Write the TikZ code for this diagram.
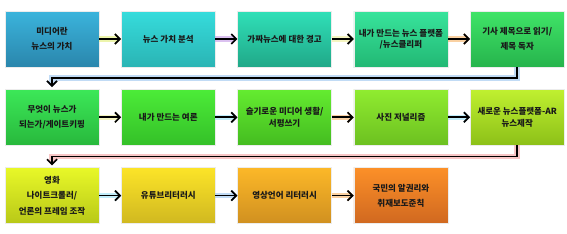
\documentclass[tikz,border=0pt]{standalone}
\usepackage{fontspec}
\setmainfont{Noto Sans CJK KR}
\usetikzlibrary{positioning,arrows.meta,shadows}
\definecolor{boxAt}{HTML}{3BB4DC}\definecolor{boxAb}{HTML}{2A86AC}
\definecolor{boxBt}{HTML}{36DCDC}\definecolor{boxBb}{HTML}{2AB4B4}
\definecolor{boxCt}{HTML}{30E0B8}\definecolor{boxCb}{HTML}{20A888}
\definecolor{boxDt}{HTML}{38E49C}\definecolor{boxDb}{HTML}{22B874}
\definecolor{boxEt}{HTML}{40E468}\definecolor{boxEb}{HTML}{26B44C}
\definecolor{boxFt}{HTML}{3CE858}\definecolor{boxFb}{HTML}{28B83C}
\definecolor{boxGt}{HTML}{4CEC38}\definecolor{boxGb}{HTML}{34C028}
\definecolor{boxHt}{HTML}{64EC30}\definecolor{boxHb}{HTML}{44BC20}
\definecolor{boxIt}{HTML}{90EC30}\definecolor{boxIb}{HTML}{6CC020}
\definecolor{boxJt}{HTML}{C0F030}\definecolor{boxJb}{HTML}{8CC018}
\definecolor{boxKt}{HTML}{E8F828}\definecolor{boxKb}{HTML}{B8C818}
\definecolor{boxLt}{HTML}{FCE428}\definecolor{boxLb}{HTML}{D0B820}
\definecolor{boxMt}{HTML}{FCB828}\definecolor{boxMb}{HTML}{D09020}
\definecolor{boxNt}{HTML}{FC9028}\definecolor{boxNb}{HTML}{D06820}
\definecolor{glowlime}{HTML}{E4F080}
\definecolor{glowviolet}{HTML}{C8A0E8}
\definecolor{glowcream}{HTML}{F0F0A0}
\definecolor{gloworange}{HTML}{F8B870}
\definecolor{glowsky}{HTML}{A0C8F0}
\definecolor{glowcyan}{HTML}{A0E4F8}
\definecolor{glowpink}{HTML}{F4A8A8}

\tikzset{
  stage/.style={minimum width=94pt, minimum height=56pt, inner sep=1pt,
    align=center, font=\fontsize{8.5}{11.5}\selectfont\bfseries, text=black!90,
    top color=#1t, bottom color=#1b, draw=white!85!gray, line width=0.3pt,
    drop shadow={shadow xshift=0.8pt, shadow yshift=-0.8pt, opacity=0.25}},
  flow/.style={-{Straight Barb[length=5pt,width=10pt,line width=1.7pt]},
    line width=1.7pt, black, preaction={draw=#1, line width=5.5pt, draw opacity=0.65}},
}

\begin{document}
\begin{tikzpicture}[node distance=22pt]
  \useasboundingbox (0,0) rectangle (567pt,-233pt);

  % first row
  \node[stage=boxA] (value) at (52pt,-39pt) {미디어란\\[4pt]뉴스의 가치};
  \node[stage=boxB, right=of value] (analysis) {뉴스 가치 분석};
  \node[stage=boxC, right=of analysis] (fake) {가짜뉴스에 대한 경고};
  \node[stage=boxD, right=of fake] (platform) {내가 만드는 뉴스 플랫폼\\/뉴스클리퍼};
  \node[stage=boxE, right=of platform] (headline) {기사 제목으로 읽기/\\[4pt]제목 독자};

  % second row
  \node[stage=boxF, below=of value] (gate) {무엇이 뉴스가\\[4pt]되는가/게이트키핑};
  \node[stage=boxG, right=of gate] (opinion) {내가 만드는 여론};
  \node[stage=boxH, right=of opinion] (review) {슬기로운 미디어 생활/\\서평쓰기};
  \node[stage=boxI, right=of review] (photo) {사진 저널리즘};
  \node[stage=boxJ, right=of photo] (ar) {새로운 뉴스플랫폼-AR\\뉴스제작};

  % third row
  \node[stage=boxK, below=of gate] (film) {영화\\[4pt]나이트크롤러/\\[4pt]언론의 프레임 조작};
  \node[stage=boxL, right=of film] (youtube) {유튜브리터러시};
  \node[stage=boxM, right=of youtube] (video) {영상언어 리터러시};
  \node[stage=boxN, right=of video] (ethics) {국민의 알권리와\\[4pt]취재보도준칙};

  % connectors
  \draw[flow=glowlime] (value) -- (analysis);
  \draw[flow=glowviolet] (analysis) -- (fake);
  \draw[flow=glowcream] (fake) -- (platform);
  \draw[flow=gloworange] (platform) -- (headline);
  \draw[flow=glowsky, shorten >=2pt] (headline.south) -- ++(0,-11pt) -| (gate.north);
  \draw[flow=glowcream] (gate) -- (opinion);
  \draw[flow=glowcyan] (opinion) -- (review);
  \draw[flow=gloworange] (review) -- (photo);
  \draw[flow=glowcyan] (photo) -- (ar);
  \draw[flow=glowpink, shorten >=2pt] (ar.south) -- ++(0,-11pt) -| (film.north);
  \draw[flow=glowcyan] (film) -- (youtube);
  \draw[flow=glowsky] (youtube) -- (video);
  \draw[flow=gloworange] (video) -- (ethics);
\end{tikzpicture}
\end{document}
